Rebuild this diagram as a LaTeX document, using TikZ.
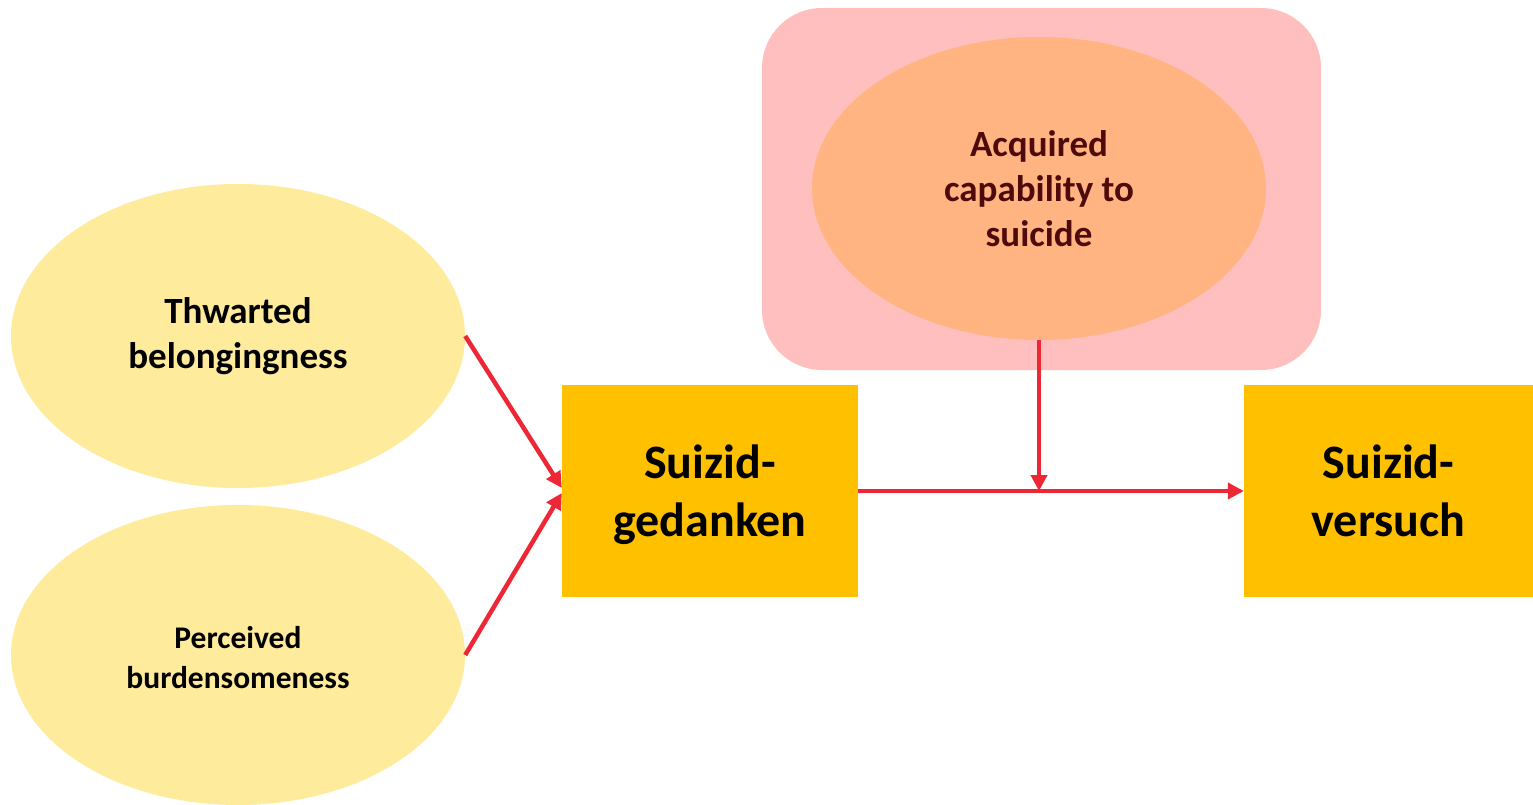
\documentclass[tikz,border=0pt]{standalone}
\usepackage{fontspec}
\setmainfont{Carlito}
\usetikzlibrary{shapes.geometric,arrows.meta}
\definecolor{ellyellow}{HTML}{FFEB9C}
\definecolor{pinkbg}{HTML}{FFBFBF}
\definecolor{orangeell}{HTML}{FFB482}
\definecolor{boxgold}{HTML}{FFC000}
\definecolor{arrred}{HTML}{EE2737}
\definecolor{darkbrown}{HTML}{4F0B0B}
\begin{document}
\begin{tikzpicture}[x=1pt,y=-1pt,
  ell/.style={ellipse,draw=none,inner sep=0pt,minimum width=454pt,minimum height=304pt,align=center,font=\bfseries},
  gbox/.style={rectangle,fill=boxgold,draw=none,inner sep=0pt,text depth=0pt,align=center,font=\fontsize{48}{58}\selectfont\bfseries},
  arr/.style={draw=arrred,line width=4.5pt,-{Triangle[length=16pt,width=16pt]}}
]
\useasboundingbox (0,0) rectangle (1533,805);
\fill[white] (0,0) rectangle (1533,805);
\node[rectangle,fill=pinkbg,rounded corners=60pt,minimum width=559pt,minimum height=362pt,inner sep=0pt] (pink) at (1041.5,189) {};
\node[ell,fill=ellyellow,font=\fontsize{37}{45}\selectfont\bfseries] (tb) at (238,336) {Thwarted\\belongingness};
\node[ell,fill=ellyellow,minimum height=300pt,font=\fontsize{31.5}{40}\selectfont\bfseries] (pb) at (238,655) {};
\node[font=\fontsize{31.5}{40}\selectfont\bfseries,align=center,inner sep=0pt] (pbt) at (238,658) {Perceived\\burdensomeness};
\node[ell,fill=orangeell,minimum height=303pt,text=darkbrown,font=\fontsize{37}{45}\selectfont\bfseries] (ac) at (1039,188.5) {Acquired\\capability to\\suicide};
\node[gbox,minimum width=296pt,minimum height=212pt] (sg) at (710,491) {Suizid-\\gedanken};
\node[gbox,minimum width=289pt,minimum height=212pt] (sv) at (1388.5,491) {Suizid-\\versuch};
\draw[arr] (tb.east) -- ([yshift=3pt]sg.west);
\draw[arr] (pb.east) -- ([yshift=-2pt]sg.west);
\draw[arr] (sg.east) -- (sv.west);
\draw[arr] (ac.south) -- (ac.south |- sg.east);
\end{tikzpicture}
\end{document}
